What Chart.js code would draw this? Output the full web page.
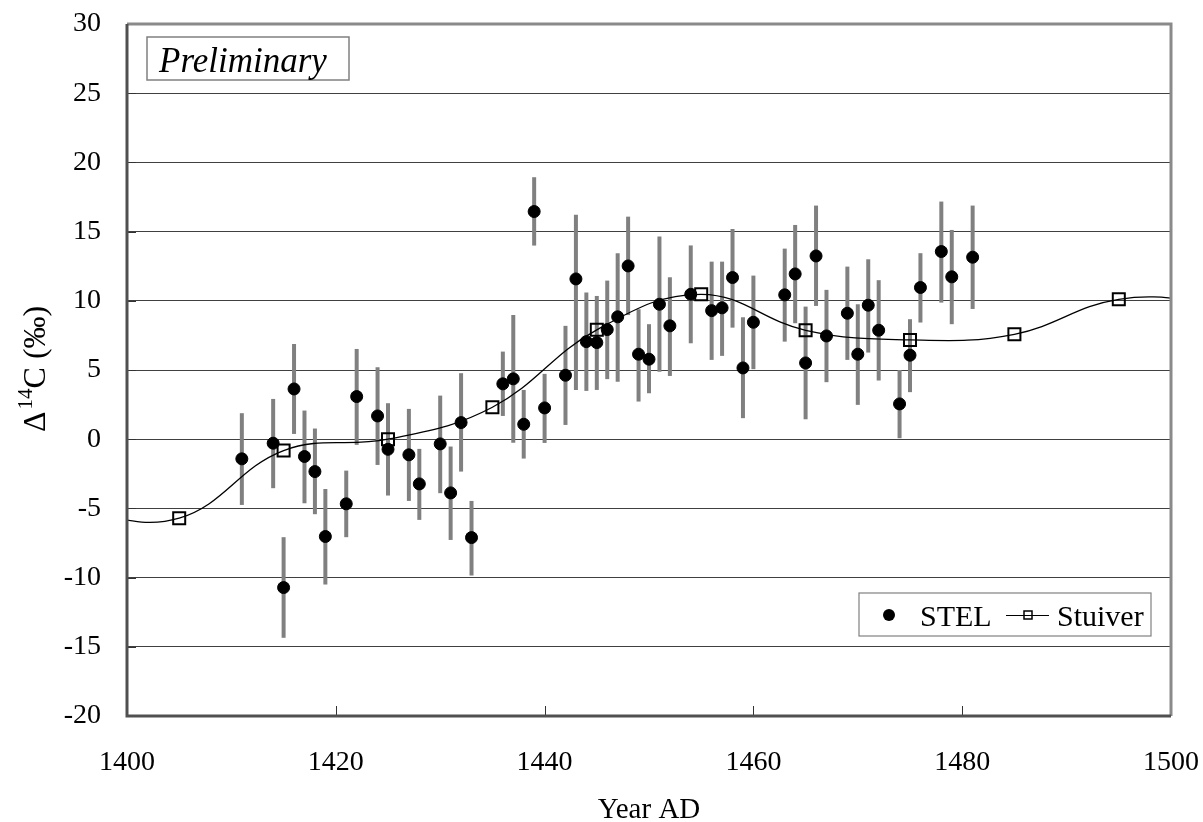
<!DOCTYPE html>
<html>
<head>
<meta charset="utf-8">
<script src="https://cdn.jsdelivr.net/npm/chart.js@4/dist/chart.umd.min.js"></script>
<style>
  body { margin: 0; background: #fff; }
  #grafico { display: block; }
</style>
</head>
<body>
<canvas id="grafico" width="1203" height="822"></canvas>
<script>
// =================== DATA ===================
const anos = [1411, 1414, 1415, 1416, 1417, 1418, 1419, 1421, 1422, 1424, 1425, 1427, 1428, 1430,
  1431, 1432, 1433, 1436, 1437, 1438, 1439, 1440, 1442, 1443, 1444, 1445, 1446, 1447, 1448, 1449,
  1450, 1451, 1452, 1454, 1456, 1457, 1458, 1459, 1460, 1463, 1464, 1465, 1466, 1467, 1469, 1470,
  1471, 1472, 1474, 1475, 1476, 1478, 1479, 1481];
const stel = [-1.42, -0.29, -10.72, 3.63, -1.25, -2.34, -7.03, -4.67, 3.08, 1.68, -0.73, -1.13, -3.23, -0.34,
  -3.88, 1.2, -7.11, 4.0, 4.36, 1.08, 16.45, 2.26, 4.62, 11.58, 7.05, 6.98, 7.92, 8.84, 12.52, 6.14,
  5.78, 9.75, 8.19, 10.47, 9.29, 9.49, 11.68, 5.15, 8.45, 10.43, 11.94, 5.51, 13.24, 7.46, 9.1, 6.14,
  9.68, 7.87, 2.55, 6.07, 10.96, 13.56, 11.73, 13.15];
// top and bottom of each error bar
const barraTopo = [1.88, 2.91, -7.08, 6.88, 2.07, 0.77, -3.6, -2.27, 6.52, 5.2, 2.6, 2.19, -0.7, 3.15,
  -0.53, 4.77, -4.46, 6.33, 8.98, 3.56, 18.93, 4.72, 8.19, 16.21, 10.6, 10.35, 11.46, 13.44, 16.08, 9.39,
  8.31, 14.64, 11.7, 14.0, 12.83, 12.83, 15.19, 8.81, 11.82, 13.77, 15.48, 9.58, 16.88, 10.79, 12.47, 9.75,
  13.0, 11.49, 5.0, 8.67, 13.44, 17.17, 15.12, 16.88];
const barraBase = [-4.75, -3.54, -14.35, 0.38, -4.63, -5.42, -10.5, -7.08, -0.41, -1.86, -4.07, -4.46, -5.83, -3.9,
  -7.28, -2.34, -9.85, 1.68, -0.25, -1.4, 13.99, -0.27, 1.03, 3.56, 3.49, 3.56, 4.34, 4.16, 8.97, 2.72,
  3.32, 4.88, 4.57, 6.93, 5.73, 6.02, 8.06, 1.52, 5.06, 7.05, 8.38, 1.44, 9.63, 4.12, 5.73, 2.48,
  6.26, 4.24, 0.07, 3.4, 8.43, 9.87, 8.31, 9.41];

// Stuiver curve (first and last points lie outside the axis range)
const anosStuiver = [1395, 1405, 1415, 1425, 1435, 1445, 1455, 1465, 1475, 1485, 1495, 1505];
const stuiver = [-5.3, -5.71, -0.82, 0.0, 2.31, 7.9, 10.47, 7.87, 7.17, 7.58, 10.11, 9.9];

const ticksX = { min: 1400, max: 1500, step: 20 };
const ticksY = { min: -20, max: 30, step: 5 };

const fonte = "'Liberation Serif', 'Times New Roman', serif";

// =================== PLUGINS ===================
const barrasErro = {
  id: 'barrasErro',
  beforeDatasetsDraw(chart) {
    const ctx = chart.ctx;
    const x = chart.scales.x;
    const y = chart.scales.y;
    ctx.save();
    ctx.strokeStyle = '#808080';
    ctx.lineWidth = 4;
    anos.forEach((ano, i) => {
      const px = x.getPixelForValue(ano);
      ctx.beginPath();
      ctx.moveTo(px, y.getPixelForValue(barraTopo[i]));
      ctx.lineTo(px, y.getPixelForValue(barraBase[i]));
      ctx.stroke();
    });
    ctx.restore();
  }
};

const moldura = {
  id: 'moldura',
  afterDatasetsDraw(chart) {
    const ctx = chart.ctx;
    const a = chart.chartArea;
    ctx.save();
    // inward tick marks
    ctx.strokeStyle = '#333';
    ctx.lineWidth = 1;
    chart.scales.x.ticks.forEach(t => {
      const px = Math.round(chart.scales.x.getPixelForValue(t.value)) + 0.5;
      ctx.beginPath();
      ctx.moveTo(px, a.bottom);
      ctx.lineTo(px, a.bottom - 10);
      ctx.stroke();
    });
    chart.scales.y.ticks.forEach(t => {
      const py = Math.round(chart.scales.y.getPixelForValue(t.value)) + 0.5;
      ctx.beginPath();
      ctx.moveTo(a.left, py);
      ctx.lineTo(a.left + 9, py);
      ctx.stroke();
    });
    // frame
    ctx.lineWidth = 3;
    ctx.strokeStyle = '#8a8a8a';
    ctx.beginPath();
    ctx.moveTo(a.left, a.top);
    ctx.lineTo(a.right, a.top);
    ctx.lineTo(a.right, a.bottom);
    ctx.stroke();
    ctx.strokeStyle = '#505050';
    ctx.beginPath();
    ctx.moveTo(a.left, a.top);
    ctx.lineTo(a.left, a.bottom);
    ctx.lineTo(a.right, a.bottom);
    ctx.stroke();
    ctx.restore();
  },
  afterDraw(chart) {
    const ctx = chart.ctx;
    const a = chart.chartArea;
    ctx.save();

    // "Preliminary" box
    ctx.fillStyle = '#fff';
    ctx.fillRect(a.left + 20, a.top + 13, 202, 43);
    ctx.strokeStyle = '#808080';
    ctx.lineWidth = 1.5;
    ctx.strokeRect(a.left + 20, a.top + 13, 202, 43);
    ctx.fillStyle = '#000';
    ctx.font = "italic 35px " + fonte;
    ctx.textBaseline = 'alphabetic';
    ctx.textAlign = 'left';
    ctx.fillText('Preliminary', a.left + 32, a.top + 48);

    // legend
    const lx = a.right - 312, ly = a.bottom - 123;
    ctx.fillStyle = '#fff';
    ctx.fillRect(lx, ly, 292, 43);
    ctx.strokeStyle = '#808080';
    ctx.lineWidth = 1.2;
    ctx.strokeRect(lx, ly, 292, 43);
    const my = ly + 22;
    ctx.fillStyle = '#000';
    ctx.beginPath();
    ctx.arc(lx + 30, my, 6, 0, Math.PI * 2);
    ctx.fill();
    ctx.font = "30px " + fonte;
    ctx.fillText('STEL', lx + 61, ly + 33);
    ctx.strokeStyle = '#000';
    ctx.lineWidth = 1;
    ctx.beginPath();
    ctx.moveTo(lx + 147, my + 0.5);
    ctx.lineTo(lx + 190, my + 0.5);
    ctx.stroke();
    ctx.lineWidth = 1.5;
    ctx.strokeRect(lx + 165, my - 4, 8, 8);
    ctx.fillText('Stuiver', lx + 198, ly + 33);

    // y axis title with superscript
    ctx.translate(a.left - 82, a.top + 408);
    ctx.rotate(-Math.PI / 2);
    ctx.font = "32px " + fonte;
    ctx.fillText('\u0394', 0, 0);
    let w = ctx.measureText('\u0394').width + 2;
    ctx.font = "21px " + fonte;
    ctx.fillText('14', w, -13);
    w += ctx.measureText('14').width;
    ctx.font = "32px " + fonte;
    ctx.fillText('C (\u2030)', w, 0);
    ctx.restore();
  }
};

// =================== CHART ===================
new Chart(document.getElementById('grafico'), {
  type: 'scatter',
  data: {
    datasets: [
      {
        label: 'STEL',
        data: anos.map((ano, i) => ({ x: ano, y: stel[i] })),
        pointRadius: 6,
        pointHoverRadius: 6,
        backgroundColor: '#000',
        borderColor: '#000',
        order: 2
      },
      {
        type: 'line',
        label: 'Stuiver',
        data: anosStuiver.map((ano, i) => ({ x: ano, y: stuiver[i] })),
        borderColor: '#000',
        borderWidth: 1.3,
        tension: 0.4,
        fill: false,
        pointStyle: 'rect',
        pointRadius: 8.5,
        pointHoverRadius: 8.5,
        pointBackgroundColor: 'rgba(0,0,0,0)',
        pointBorderColor: '#000',
        pointBorderWidth: 2,
        order: 1
      }
    ]
  },
  options: {
    responsive: false,
    animation: false,
    events: [],
    layout: { padding: { top: 24, right: 32, left: 0, bottom: 0 } },
    plugins: {
      legend: { display: false },
      tooltip: { enabled: false }
    },
    scales: {
      x: {
        type: 'linear',
        min: ticksX.min,
        max: ticksX.max,
        afterFit(scale) {
          scale.height = 106;
          scale.paddingLeft = 0;
          scale.paddingRight = 0;
        },
        ticks: { stepSize: ticksX.step, color: '#000', padding: 30, font: { family: fonte, size: 28 },
          callback: v => String(v) },
        grid: { display: false, drawTicks: false },
        border: { display: false },
        title: { display: true, text: 'Year AD', color: '#000', padding: { top: 0, bottom: -6 }, font: { family: fonte, size: 29 } }
      },
      y: {
        min: ticksY.min,
        max: ticksY.max,
        afterFit(scale) {
          scale.width = 127;
          scale.paddingTop = 0;
          scale.paddingBottom = 0;
        },
        ticks: { stepSize: ticksY.step, color: '#000', padding: 26, font: { family: fonte, size: 28 },
          callback: v => String(v) },
        grid: { color: '#404040', lineWidth: 1, drawTicks: false },
        border: { display: false }
      }
    }
  },
  plugins: [barrasErro, moldura]
});
</script>
</body>
</html>
